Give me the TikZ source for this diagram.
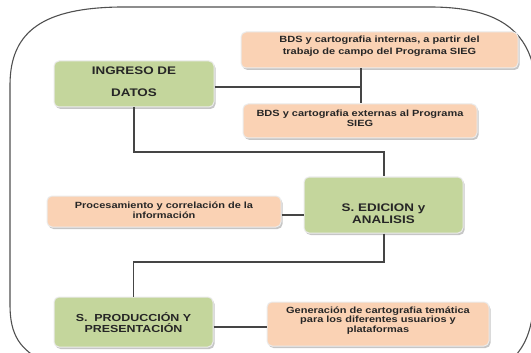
\documentclass[tikz,border=0pt]{standalone}
\usepackage{fontspec}
\setmainfont{Liberation Sans}[FakeStretch=1.22]
\usetikzlibrary{shadows}
\definecolor{gfill}{HTML}{C4D69C}
\definecolor{ofill}{HTML}{FAD2B4}
\definecolor{conn}{HTML}{454545}
\definecolor{frame}{HTML}{505050}
\definecolor{txt}{HTML}{262626}
\begin{document}
\begin{tikzpicture}[x=1pt,y=-1pt,
  box/.style={rounded corners=5pt, inner sep=0pt, line width=1pt, draw=white!92!black,
    drop shadow={shadow xshift=1.5pt, shadow yshift=-2pt, fill=black!50, opacity=0.45}},
  gbox/.style={box, fill=gfill},
  obox/.style={box, fill=ofill},
  gtext/.style={align=center, text=txt, inner sep=0pt, font=\bfseries\fontsize{11}{11.5}\selectfont},
  otext/.style={align=center, text=txt, inner sep=0pt, font=\bfseries\fontsize{9}{10.3}\selectfont},
  conline/.style={draw=conn, line width=1.3pt},
  frameline/.style={draw=frame, line width=1.1pt}]
\useasboundingbox (0,0) rectangle (531,353);
% outer frame
\draw[frameline] (45,362) .. controls (20,350) and (10,335) .. (10,305) -- (10,85)
  .. controls (10,30) and (45,8) .. (120,7) -- (430,7)
  .. controls (490,7) and (525,25) .. (534,70) -- (534,290)
  .. controls (534,330) and (525,350) .. (505,365);
% boxes
\node[obox, minimum width=277pt, minimum height=36pt] (A) at (379.5,50) {};
\node[gbox, minimum width=160pt, minimum height=46pt] (G) at (134,84) {};
\node[obox, minimum width=234pt, minimum height=34pt] (B) at (360,121) {};
\node[gbox, minimum width=159pt, minimum height=56pt] (E) at (383.5,205) {};
\node[obox, minimum width=234pt, minimum height=31pt] (C) at (164,211.5) {};
\node[gbox, minimum width=159pt, minimum height=50pt] (P) at (133.5,322) {};
\node[obox, minimum width=222pt, minimum height=44pt] (D) at (378,324) {};
% texts
\node[otext, font=\bfseries\fontsize{9}{12}\selectfont] (At) at (379.5,46) {BDS y cartografia internas, a partir del\\trabajo de campo del Programa SIEG};
\node[gtext, font=\bfseries\fontsize{11}{22}\selectfont] (Gt) at (134,82) {INGRESO DE\\DATOS};
\node[otext] (Bt) at (360,118) {BDS y cartografia externas al Programa\\SIEG};
\node[gtext] (Et) at (383.5,213.5) {S. EDICION y\\ANALISIS};
\node[otext] (Ct) at (164,210) {Procesamiento y correlación de la\\información};
\node[gtext, font=\bfseries\fontsize{10.2}{11}\selectfont] (Pt) at (133.5,322.5) {S.\ \ PRODUCCIÓN Y\\PRESENTACIÓN};
\node[otext, font=\bfseries\fontsize{9}{9.8}\selectfont] (Dt) at (378,320.5) {Generación de cartografia temática\\para los diferentes usuarios y\\plataformas};
% connectors
\coordinate (j1) at (361,87);
\draw[conline] (A.south -| j1) -- (B.north -| j1);
\draw[conline] (G.east |- j1) -- (j1);
\coordinate (k1) at (384,152);
\draw[conline] (G.south) |- (k1) -- (k1 |- E.north);
\draw[conline] ([yshift=-3.5pt]C.east) -- ([yshift=-3.5pt]C.east -| E.west);
\coordinate (k2) at (384,262);
\draw[conline] (k2 |- E.south) -- (k2) -| (P.north);
\draw[conline] ([yshift=-5pt]P.east) -- ([yshift=-5pt]P.east -| D.west);
\end{tikzpicture}
\end{document}
